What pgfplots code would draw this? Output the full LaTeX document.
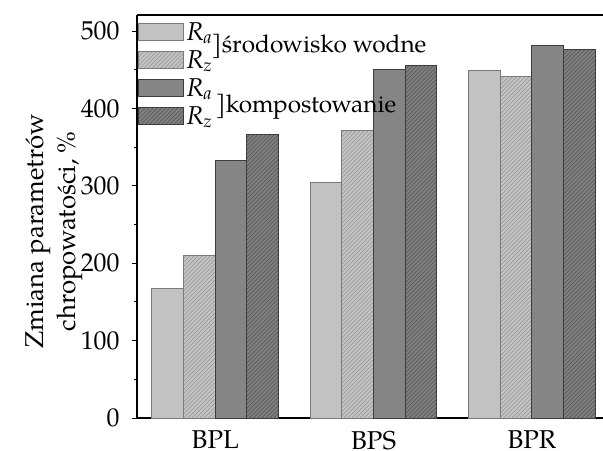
\documentclass[border=0pt]{standalone}
\usepackage{fontspec}
\setmainfont{TeX Gyre Pagella}
\usepackage{pgfplots}
\pgfplotsset{compat=1.18}
\usetikzlibrary{patterns.meta}

\definecolor{waterRa}{HTML}{C2C2C2}
\definecolor{waterRz}{HTML}{C4C4C4}
\definecolor{waterHatch}{HTML}{9A9A9A}
\definecolor{compRa}{HTML}{858585}
\definecolor{compRz}{HTML}{808080}
\definecolor{compHatch}{HTML}{5A5A5A}
\definecolor{lightedge}{HTML}{7A7A7A}
\definecolor{darkedge}{HTML}{3C3C3C}

\newcommand\fs{\fontsize{12.9pt}{16pt}\selectfont}
\newcommand\fl{\fontsize{12.2pt}{15pt}\selectfont}

\pgfplotsset{
  swatch/.style={legend image code/.code={\draw[##1] (0pt,0pt) rectangle (22.5pt,8.5pt);}},
  hatch/.style={postaction={pattern={Lines[angle=45,distance=1.45pt,line width=0.35pt]}, pattern color=#1}},
}

\begin{document}
\begin{tikzpicture}
\path[use as bounding box] (-68.5pt,-16pt) rectangle (233pt,209pt);
\begin{axis}[
  at={(0,0)}, anchor=south west,
  scale only axis, width=233pt, height=201.5pt,
  axis x line=box, axis y line=left,
  axis line style={-, line width=0.6pt, black},
  ybar, bar width=0.2,
  xmin=-0.4946, xmax=2.449,
  ymin=0, ymax=521,
  xtick={0,1,2}, xticklabels={BPL,BPS,BPR},
  xtick style={draw=none},
  ytick={0,100,...,500},
  minor ytick={50,150,...,450},
  tick align=outside,
  major tick length=2.6pt, minor tick length=1.6pt,
  tick style={black, line width=0.5pt},
  /pgf/number format/assume math mode=true,
  ticklabel style={font=\fs},
  xticklabel style={inner sep=0pt, yshift=-3.6pt},
  yticklabel style={xshift=-2.6pt},
  ylabel={Zmiana parametrów\\chropowatości, \%},
  ylabel style={font=\fs, align=center, at={(axis description cs:-0.102,0.463)}, anchor=south},
  legend style={draw=none, fill=none, at={(axis description cs:0.002,0.986)}, anchor=north west,
    inner sep=0pt, column sep=0.6pt,
    nodes={font=\fs, inner sep=0.5pt, text height=9pt, text depth=4pt, anchor=base west}},
  legend cell align=left,
]
% water environment
\addplot[bar shift=-0.3, fill=waterRa, draw=lightedge, line width=0.5pt, swatch]
  coordinates {(0,167) (1,305) (2,449)};
\addplot[bar shift=-0.1, fill=waterRz, draw=lightedge, line width=0.5pt, hatch=waterHatch, swatch]
  coordinates {(0,210) (1,372) (2,441)};
% composting
\addplot[bar shift=0.1, fill=compRa, draw=darkedge, line width=0.5pt, swatch]
  coordinates {(0,333) (1,451) (2,482)};
\addplot[bar shift=0.3, fill=compRz, draw=darkedge, line width=0.5pt, hatch=compHatch, swatch]
  coordinates {(0,366) (1,456) (2,477)};
\legend{\textit{R}\textsubscript{\textit{a}},\textit{R}\textsubscript{\textit{z}},\textit{R}\textsubscript{\textit{a}},\textit{R}\textsubscript{\textit{z}}}
\node[anchor=base west, inner sep=0pt, font=\fl] at (axis description cs:0.1587,0.9057) {]środowisko wodne};
\node[anchor=base west, inner sep=0pt, font=\fl] at (axis description cs:0.1672,0.7568) {]kompostowanie};
\end{axis}
\end{tikzpicture}
\end{document}
